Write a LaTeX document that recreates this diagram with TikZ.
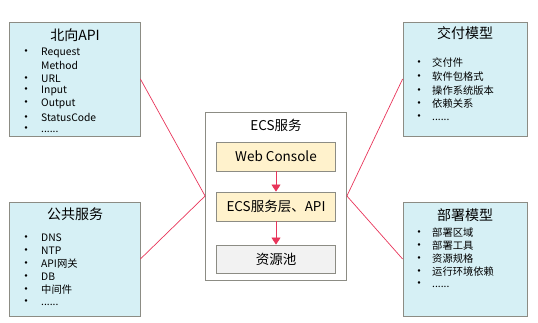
\documentclass[tikz,border=0pt]{standalone}
\usepackage{fontspec}
\setmainfont{Noto Sans CJK SC}
\usetikzlibrary{arrows.meta, positioning}

\definecolor{boxblue}{HTML}{D6F0F5}
\definecolor{boxline}{HTML}{8C8C84}
\definecolor{layeryellow}{HTML}{FFF2CC}
\definecolor{poolgray}{HTML}{F2F2F2}
\definecolor{linkred}{HTML}{E8355A}

\newcommand{\listdot}{\makebox[21pt][l]{{\fontsize{12}{12}\selectfont\textbullet}}}
\newcommand{\modeldot}{\makebox[19pt][l]{{\fontsize{12}{12}\selectfont\textbullet}}}

\tikzset{
    sidebox/.style={draw=boxline, fill=boxblue, line width=0.8pt, inner sep=0pt},
    layerbox/.style={draw=boxline, fill=layeryellow, line width=0.8pt, minimum width=119pt, minimum height=29pt, font=\fontsize{13.5}{15}\selectfont},
    title/.style={font=\fontsize{14}{16}\selectfont, inner sep=0pt},
    item/.style={anchor=west, font=\fontsize{10.3}{12}\selectfont, inner sep=0pt},
    link/.style={draw=linkred, line width=0.7pt},
    flow/.style={link, -{Triangle[length=7pt, width=9pt]}},
}

\begin{document}
\begin{tikzpicture}[x=1pt, y=-1pt]
    \useasboundingbox (0, 0) rectangle (538, 323);

    % side boxes
    \node[sidebox, minimum width=131pt, minimum height=114pt] (northAPI) at (74.5, 79) {};
    \node[sidebox, minimum width=131pt, minimum height=114pt] (pubService) at (74.5, 259) {};
    \node[sidebox, minimum width=124pt, minimum height=114pt] (deliverModel) at (465, 79) {};
    \node[sidebox, minimum width=124pt, minimum height=114pt] (deployModel) at (465, 259) {};

    % ECS box
    \node[draw=boxline, fill=white, line width=0.8pt, minimum width=141pt, minimum height=168pt] (ecs) at (276, 196) {};
    \node[title, font=\fontsize{13.5}{15}\selectfont] (ecsTitle) at (276, 125) {ECS服务};
    \node[layerbox] (webConsole) at (276, 156.5) {Web Console};
    \node[layerbox] (ecsLayer) at (276, 206.5) {ECS服务层、API};
    \node[layerbox, fill=poolgray, minimum height=28pt] (pool) at (276, 259) {资源池};

    \draw[flow] (webConsole.south) -- (ecsLayer.north);
    \draw[flow] (ecsLayer.south) -- (pool.north);

    % titles
    \node[title] (northTitle) at (75, 35) {北向API};
    \node[title] (pubTitle) at (75, 214) {公共服务};
    \node[title] (deliverTitle) at (465, 33) {交付模型};
    \node[title] (deployTitle) at (465, 215) {部署模型};

    % northbound API
    \node[item] (api1) at (20, 53) {\listdot Request};
    \node[item] (api2) at (20, 65.8) {\hspace{21pt}Method};
    \node[item] (api3) at (20, 78.6) {\listdot URL};
    \node[item] (api4) at (20, 91.4) {\listdot Input};
    \node[item] (api5) at (20, 104.2) {\listdot Output};
    \node[item] (api6) at (20, 117) {\listdot StatusCode};
    \node[item] (api7) at (20, 129.8) {\listdot ......};

    % public services
    \node[item] (pub1) at (20, 238) {\listdot DNS};
    \node[item] (pub2) at (20, 251) {\listdot NTP};
    \node[item] (pub3) at (20, 264) {\listdot API网关};
    \node[item] (pub4) at (20, 276.5) {\listdot DB};
    \node[item] (pub5) at (20, 289.5) {\listdot 中间件};
    \node[item] (pub6) at (20, 303) {\listdot ......};

    % delivery model
    \node[item] (dlv1) at (413, 63) {\modeldot 交付件};
    \node[item] (dlv2) at (413, 77) {\modeldot 软件包格式};
    \node[item] (dlv3) at (413, 90.5) {\modeldot 操作系统版本};
    \node[item] (dlv4) at (413, 104) {\modeldot 依赖关系};
    \node[item] (dlv5) at (413, 118) {\modeldot ......};

    % deployment model
    \node[item] (dpl1) at (413, 233) {\modeldot 部署区域};
    \node[item] (dpl2) at (413, 246) {\modeldot 部署工具};
    \node[item] (dpl3) at (413, 259) {\modeldot 资源规格};
    \node[item] (dpl4) at (413, 272) {\modeldot 运行环境依赖};
    \node[item] (dpl5) at (413, 285) {\modeldot ......};

    % links
    \draw[link] (northAPI.east) -- (ecs.west);
    \draw[link] (pubService.east) -- (ecs.west);
    \draw[link] (deliverModel.west) -- (ecs.east);
    \draw[link] (deployModel.west) -- (ecs.east);
\end{tikzpicture}
\end{document}
